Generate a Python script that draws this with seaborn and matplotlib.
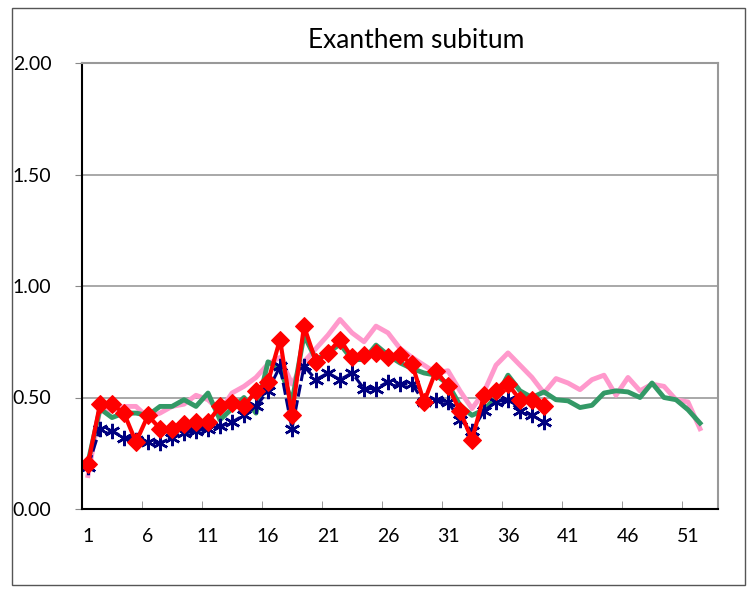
import numpy as np
import pandas as pd
import seaborn as sns
import matplotlib.pyplot as plt
from matplotlib.patches import Rectangle

# weekly values
weeks_full = list(range(1, 53))
weeks_cur = list(range(1, 40))

pink_vals = [0.15, 0.45, 0.44, 0.46, 0.46, 0.41, 0.43, 0.46, 0.47, 0.51,
             0.49, 0.44, 0.52, 0.55, 0.59, 0.65, 0.68, 0.56, 0.66, 0.72,
             0.78, 0.85, 0.79, 0.75, 0.82, 0.79, 0.72, 0.68, 0.645, 0.61,
             0.62, 0.53, 0.45, 0.525, 0.645, 0.70, 0.645, 0.59, 0.52, 0.585,
             0.565, 0.535, 0.58, 0.60, 0.51, 0.59, 0.53, 0.56, 0.55, 0.49,
             0.48, 0.36]
green_vals = [0.21, 0.45, 0.41, 0.43, 0.43, 0.42, 0.46, 0.46, 0.49, 0.46,
              0.52, 0.40, 0.45, 0.50, 0.43, 0.66, 0.63, 0.48, 0.78, 0.67,
              0.70, 0.74, 0.67, 0.67, 0.735, 0.69, 0.655, 0.63, 0.61, 0.60,
              0.56, 0.465, 0.42, 0.445, 0.50, 0.60, 0.53, 0.50, 0.525, 0.49,
              0.485, 0.455, 0.465, 0.52, 0.53, 0.525, 0.50, 0.565, 0.50, 0.49,
              0.445, 0.385]
navy_vals = [0.19, 0.36, 0.35, 0.32, 0.31, 0.30, 0.295, 0.32, 0.34, 0.35,
             0.36, 0.37, 0.39, 0.42, 0.46, 0.53, 0.64, 0.36, 0.64, 0.58,
             0.61, 0.58, 0.61, 0.54, 0.54, 0.57, 0.56, 0.56, 0.48, 0.49,
             0.48, 0.40, 0.35, 0.44, 0.48, 0.49, 0.44, 0.42, 0.39]
red_vals = [0.20, 0.47, 0.47, 0.43, 0.30, 0.42, 0.36, 0.36, 0.38, 0.39,
            0.39, 0.46, 0.475, 0.46, 0.53, 0.57, 0.76, 0.42, 0.82, 0.66,
            0.70, 0.76, 0.68, 0.69, 0.70, 0.68, 0.69, 0.65, 0.48, 0.62,
            0.55, 0.44, 0.31, 0.51, 0.53, 0.56, 0.49, 0.49, 0.46]

x_labels = [1, 6, 11, 16, 21, 26, 31, 36, 41, 46, 51]
y_ticks = [0.0, 0.5, 1.0, 1.5, 2.0]

font = 'Lato'

fig = plt.figure(figsize=(7.52, 5.93), dpi=100)
fig.patches.append(Rectangle((12 / 752, 8 / 593), 733 / 752, 577 / 593,
                             transform=fig.transFigure, fill=False,
                             edgecolor='#555555', lw=1))
ax = fig.add_axes([82 / 752, 1 - 509 / 593, 636 / 752, 446 / 593])

# grid lines
for yv in y_ticks[1:]:
    ax.axhline(yv, color='#999999', lw=1.2, zorder=0)

sns.lineplot(x=weeks_full, y=pink_vals, ax=ax, color='#FF99CC', lw=3.5)
sns.lineplot(x=weeks_full, y=green_vals, ax=ax, color='#339966', lw=3.5)
sns.lineplot(x=weeks_cur, y=navy_vals, ax=ax, color='#000080', lw=2.2,
             linestyle=(0, (4, 1.2)), marker=(6, 2, 0), markersize=11,
             markeredgewidth=1.8, markeredgecolor='#000080')
sns.lineplot(x=weeks_cur, y=red_vals, ax=ax, color='#FF0000', lw=3,
             marker='D', markersize=9, markeredgecolor='#FF0000')

ax.set_xlim(0.5, 53.5)
ax.set_ylim(0, 2)
ax.set_yticks(y_ticks)
ax.set_yticklabels(['%.2f' % v for v in y_ticks], fontsize=14, family=font)
ax.set_xticks(x_labels)
ax.set_xticklabels([str(v) for v in x_labels], fontsize=14, family=font)
ax.set_xticks(np.arange(0.5, 54, 5), minor=True)
ax.tick_params(axis='x', which='major', length=0, pad=14)
ax.tick_params(axis='x', which='minor', direction='in', length=6, color='#888888')
ax.tick_params(axis='y', length=5, direction='out', pad=17, color='#888888')
ax.set_xlabel('')
ax.set_ylabel('')

for side in ['top', 'right']:
    ax.spines[side].set_color('#999999')
    ax.spines[side].set_linewidth(1.5)
for side in ['left', 'bottom']:
    ax.spines[side].set_color('#000000')
    ax.spines[side].set_linewidth(1.5)

fig.text(416 / 752, 1 - 40 / 593, 'Exanthem subitum', ha='center', va='center',
         fontsize=19, family=font)

fig.savefig('out.png', dpi=100)
